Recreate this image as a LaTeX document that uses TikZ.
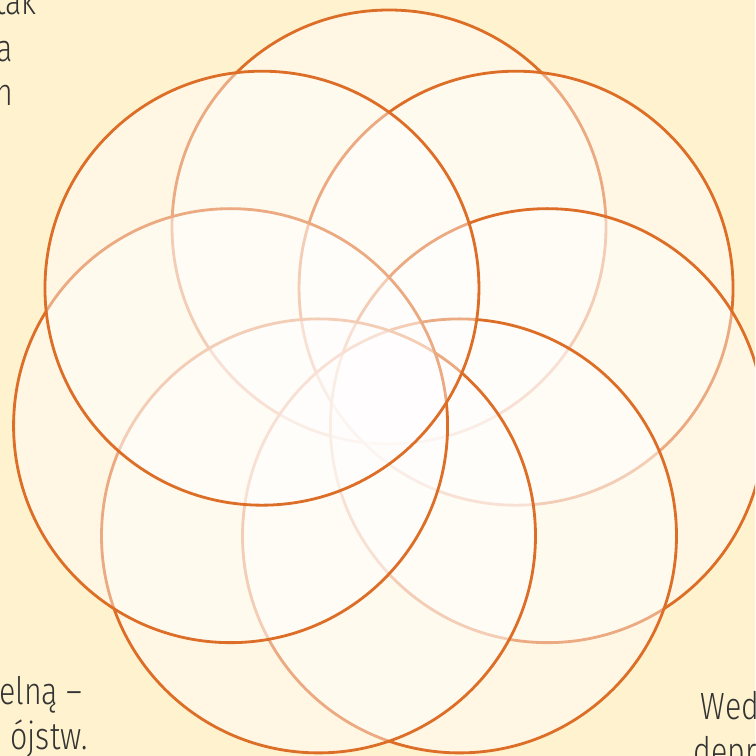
\documentclass[tikz,border=0pt]{standalone}
\usepackage{fontspec}
\setmainfont[FakeStretch=0.8]{Fira Sans Light}
\usetikzlibrary{calc}
\definecolor{paper}{HTML}{FFF2CF}
\definecolor{petal}{HTML}{DD6E28}
\definecolor{ink}{HTML}{333333}

\begin{document}
\begin{tikzpicture}[
  petalring/.style={draw=petal,line width=.8pt,fill=white,fill opacity=.42,draw opacity=1},
  fragment/.style={inner sep=0pt,text=ink,font=\fontsize{10.8}{12.8}\selectfont}
]
  \useasboundingbox (0,0) rectangle (7.55,7.56);
  \clip (0,0) rectangle (7.55,7.56);
  \fill[paper] (0,0) rectangle (7.55,7.56);
  \coordinate (hub) at (3.89,3.665);
  % seven rings, clockwise from the top one
  \foreach \k in {0,...,6}
    \draw[petalring] ($(hub)+({90-\k*360/7}:1.625)$) circle (2.17);
  % cut text at the edges
  \node[fragment,anchor=base east] (lineA) at (0.37,7.41) {tak};
  \node[fragment,anchor=base east] (lineB) at (0.13,6.94) {a};
  \node[fragment,anchor=base east] (lineC) at (0.14,6.50) {h};
  \node[fragment,anchor=base east] (lineD) at (0.04,3.18) {n};
  \node[fragment,anchor=base east] (lineE) at (0.83,0.51) {elną –};
  \node[fragment,anchor=base east] (lineF) at (0.88,0.06) {ójstw.};
  \node[fragment,anchor=base west] (lineG) at (7.00,0.37) {Wed};
  \node[fragment,anchor=base west] (lineH) at (6.93,-0.08) {depr};
\end{tikzpicture}
\end{document}
